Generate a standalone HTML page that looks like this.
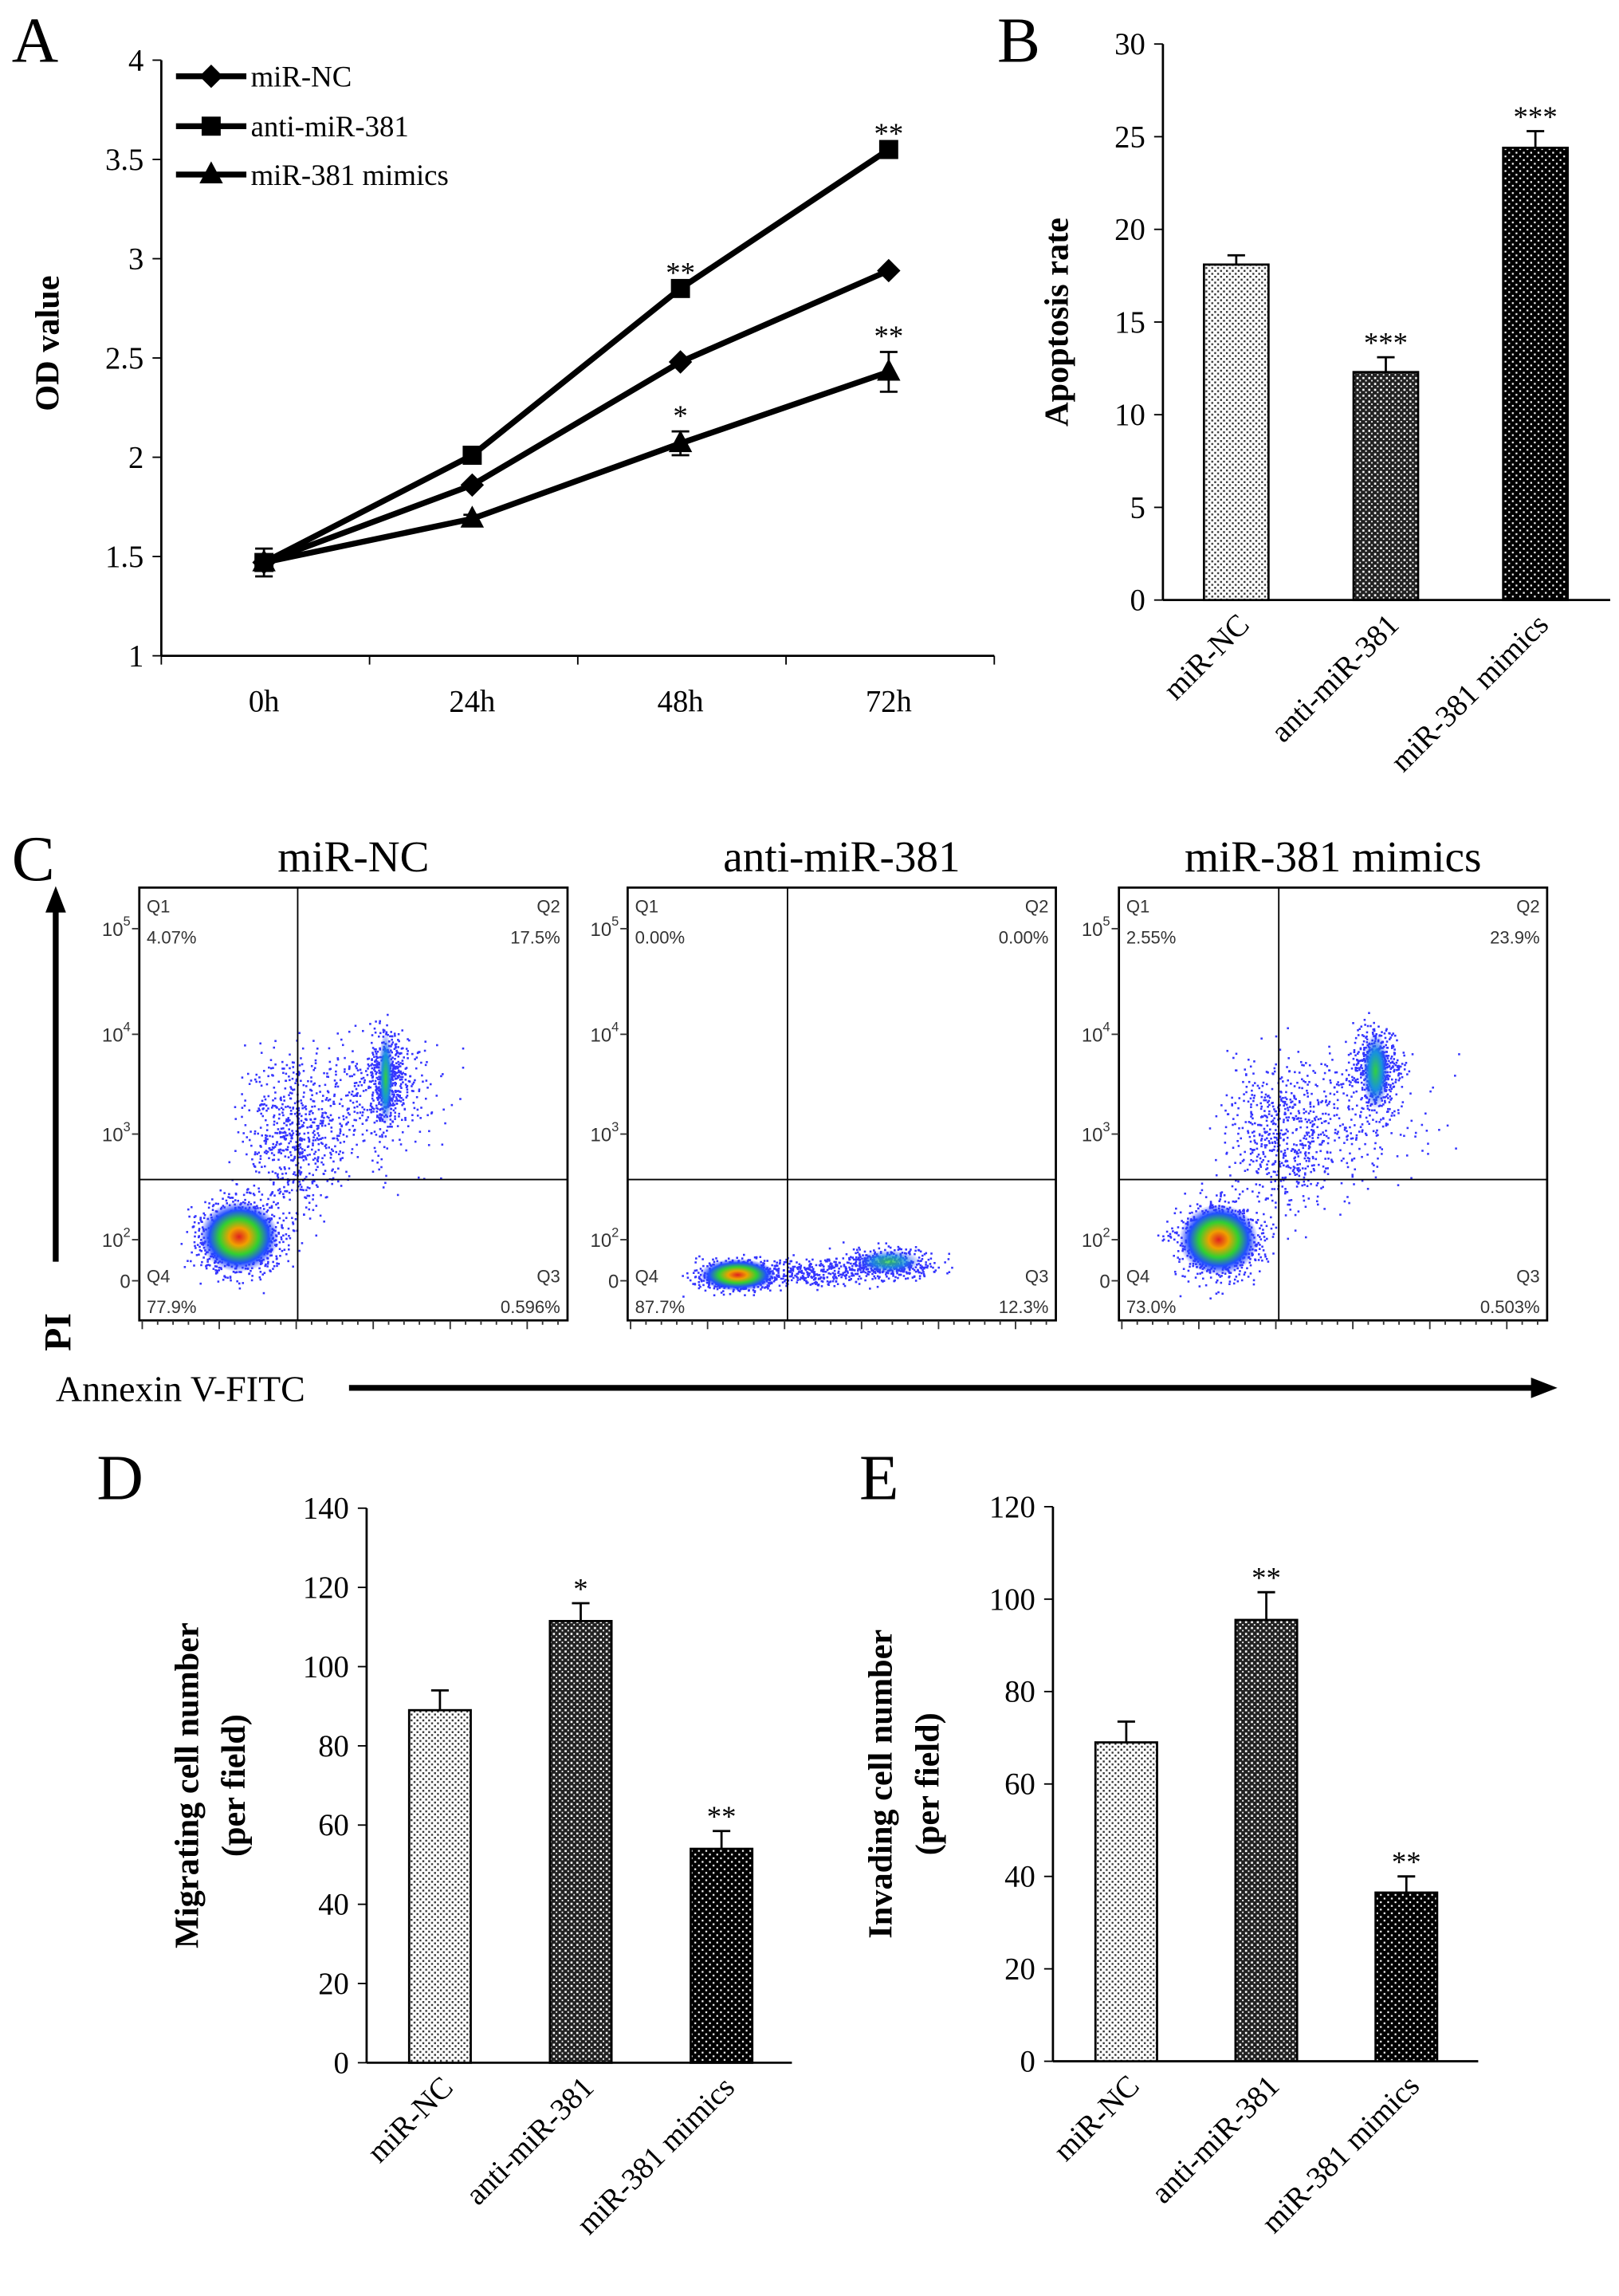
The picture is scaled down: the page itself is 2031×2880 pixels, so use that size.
<!DOCTYPE html>
<html><head><meta charset="utf-8"><style>
html,body{margin:0;padding:0;background:#fff;}
svg{display:block;}
text{font-family:"Liberation Serif",serif;}
.sans{font-family:"Liberation Sans",sans-serif;}
</style></head><body>
<svg id="fig" width="2031" height="2880" viewBox="0 0 1104 1565" preserveAspectRatio="none" xmlns="http://www.w3.org/2000/svg">
<defs>
<pattern id="pDot" width="4" height="4" patternUnits="userSpaceOnUse"><rect width="4" height="4" fill="#fff"/><rect x="0" y="0" width="1.3" height="1.3" fill="#333"/><rect x="2" y="2" width="1.3" height="1.3" fill="#333"/></pattern>
<pattern id="pCross" width="4" height="4" patternUnits="userSpaceOnUse"><rect width="4" height="4" fill="#222"/><rect x="1" y="1" width="1.4" height="1.4" fill="#fff"/><rect x="3" y="3" width="1" height="1" fill="#fff"/></pattern>
<pattern id="pBlack" width="5" height="5" patternUnits="userSpaceOnUse"><rect width="5" height="5" fill="#000"/><rect x="1" y="1" width="1.2" height="1.2" fill="#fff"/><rect x="3.5" y="3.5" width="1.2" height="1.2" fill="#fff"/></pattern>
<radialGradient id="dens"><stop offset="0" stop-color="#e02020"/><stop offset="0.25" stop-color="#f0a000"/><stop offset="0.5" stop-color="#30d030"/><stop offset="0.75" stop-color="#2050ff"/><stop offset="1" stop-color="#2030ff" stop-opacity="0"/></radialGradient>
<radialGradient id="dens2"><stop offset="0" stop-color="#30d040"/><stop offset="0.5" stop-color="#1890e0"/><stop offset="1" stop-color="#2030ff" stop-opacity="0"/></radialGradient>
</defs>
<g id="root"></g>
</svg>
<script>
// Panel A data
const aTimes=['0h','24h','48h','72h'];
const aNC=[1.47,1.86,2.48,2.94];
const aAnti=[1.47,2.01,2.85,3.55];
const aMim=[1.47,1.69,2.07,2.43];
const aErrMim=[0.07,0.02,0.06,0.1];
const aStarsAnti=['','','**','**'];
const aStarsMim=['','','*','**'];
const aYTicks=[1,1.5,2,2.5,3,3.5,4];
// Panel B
const groups=['miR-NC','anti-miR-381','miR-381 mimics'];
const bVals=[18.1,12.3,24.4];
const bErr=[0.5,0.8,0.9];
const bStars=['','***','***'];
const bYTicks=[0,5,10,15,20,25,30];
// Panel D
const dVals=[89,111.5,54];
const dErr=[5,4.5,4.5];
const dStars=['','*','**'];
const dYTicks=[0,20,40,60,80,100,120,140];
// Panel E
const eVals=[69,95.5,36.5];
const eErr=[4.5,6,3.5];
const eStars=['','**','**'];
const eYTicks=[0,20,40,60,80,100,120];
// Panel C
const cTitles=['miR-NC','anti-miR-381','miR-381 mimics'];
const cQ1=['4.07%','0.00%','2.55%'];
const cQ2=['17.5%','0.00%','23.9%'];
const cQ3=['0.596%','12.3%','0.503%'];
const cQ4=['77.9%','87.7%','73.0%'];

const NS='http://www.w3.org/2000/svg';
const root=document.getElementById('root');
function mk(tag,attrs,parent,txt){const e=document.createElementNS(NS,tag);for(const k in attrs)e.setAttribute(k,attrs[k]);if(txt!==undefined)e.textContent=txt;(parent||root).appendChild(e);return e;}

function panelLabel(t,x,y){const e=mk('text',{x:x,y:y,'font-size':44},root,t);

}
panelLabel('A',8,42);panelLabel('B',680,42);panelLabel('C',8,600);panelLabel('D',66,1022);panelLabel('E',586,1022);

// ---------- Panel A ----------
(function(){
const g=mk('g',{});


const x0=110,x1=678,yb=447,yt=41;
const Y=v=>yb-(v-1)/(4-1)*(yb-yt);
const X=i=>180+i*142;
mk('line',{x1:x0,y1:yt,x2:x0,y2:yb,stroke:'#000','stroke-width':1.5},g);
mk('line',{x1:x0,y1:yb,x2:x1,y2:yb,stroke:'#000','stroke-width':1.5},g);
aYTicks.forEach(v=>{mk('line',{x1:x0-6,y1:Y(v),x2:x0,y2:Y(v),stroke:'#000'},g);
const t=mk('text',{x:x0-12,y:Y(v)+7,'font-size':21,'text-anchor':'end'},g,String(v));
});
for(let i=0;i<=4;i++){const xx=x0+i*142;mk('line',{x1:xx,y1:yb,x2:xx,y2:yb+6,stroke:'#000'},g);}
aTimes.forEach((t,i)=>{const e=mk('text',{x:X(i),y:yb+38,'font-size':21,'text-anchor':'middle'},g,t);
});
const yl=mk('text',{x:40,y:234,'font-size':23,'font-weight':'bold','text-anchor':'middle',transform:'rotate(-90 40 234)'},g,'OD value');

function series(vals,shape,name,err,stars){
const sg=mk('g',{},g);


mk('polyline',{points:vals.map((v,i)=>X(i)+','+Y(v)).join(' '),fill:'none',stroke:'#000','stroke-width':4},sg);
vals.forEach((v,i)=>{
if(err){const e=err[i];mk('line',{x1:X(i),y1:Y(v+e),x2:X(i),y2:Y(v-e),stroke:'#000','stroke-width':1.5},sg);
[v+e,v-e].forEach(q=>mk('line',{x1:X(i)-6,y1:Y(q),x2:X(i)+6,y2:Y(q),stroke:'#000','stroke-width':1.5},sg));}
drawMarker(sg,shape,X(i),Y(v));
if(stars&&stars[i]){const off=err?err[i]:0;mk('text',{x:X(i),y:Y(v+off)-4,'font-size':20,'text-anchor':'middle'},sg,stars[i]);}
});}
function drawMarker(p,shape,x,y){
if(shape==='d')mk('polygon',{points:`${x},${y-8} ${x+8},${y} ${x},${y+8} ${x-8},${y}`,fill:'#000'},p);
else if(shape==='s')mk('rect',{x:x-6.5,y:y-6.5,width:13,height:13,fill:'#000'},p);
else mk('polygon',{points:`${x},${y-9} ${x+8},${y+6} ${x-8},${y+6}`,fill:'#000'},p);}
series(aNC,'d','mir-nc',null,null);
series(aAnti,'s','anti-mir-381',null,aStarsAnti);
series(aMim,'t','mir-381-mimics',aErrMim,aStarsMim);
const lg=mk('g',{},g);


[['d','miR-NC',52],['s','anti-miR-381',86],['t','miR-381 mimics',119]].forEach(([s,l,y])=>{
const le=mk('g',{},lg);


mk('line',{x1:120,y1:y,x2:168,y2:y,stroke:'#000','stroke-width':4},le);
drawMarker(le,s,144,y);
mk('text',{x:171,y:y+7,'font-size':20},le,l);});
})();

// ---------- Bar chart helper ----------
function barChart(o){
const g=mk('g',{});


const Y=v=>o.yb-v/o.max*(o.yb-o.yt);
mk('line',{x1:o.x0,y1:o.yt,x2:o.x0,y2:o.yb,stroke:'#000','stroke-width':1.5},g);
mk('line',{x1:o.x0,y1:o.yb,x2:o.x1,y2:o.yb,stroke:'#000','stroke-width':1.5},g);
o.ticks.forEach(v=>{mk('line',{x1:o.x0-6,y1:Y(v),x2:o.x0,y2:Y(v),stroke:'#000'},g);
const t=mk('text',{x:o.x0-12,y:Y(v)+7,'font-size':21,'text-anchor':'end'},g,String(v));
});
const fills=['url(#pDot)','url(#pCross)','url(#pBlack)'];
o.vals.forEach((v,i)=>{const cx=o.cx0+i*o.step;
const r=mk('rect',{x:cx-o.bw/2,y:Y(v),width:o.bw,height:o.yb-Y(v),fill:fills[i],stroke:'#000','stroke-width':1.5},g);


const e=o.err[i];
mk('line',{x1:cx,y1:Y(v),x2:cx,y2:Y(v+e),stroke:'#000','stroke-width':1.5},g);
mk('line',{x1:cx-6,y1:Y(v+e),x2:cx+6,y2:Y(v+e),stroke:'#000','stroke-width':1.5},g);
if(o.stars[i])mk('text',{x:cx,y:Y(v+e)-3,'font-size':20,'text-anchor':'middle'},g,o.stars[i]);
const lx=cx+10,ly=o.yb+18;
const t=mk('text',{x:lx,y:ly,'font-size':21,'text-anchor':'end',transform:`rotate(-45 ${lx} ${ly})`},g,groups[i]);
});
o.title.forEach((line,k)=>{const tx=o.tx+k*32,ty=(o.yt+o.yb)/2;
const t=mk('text',{x:tx,y:ty,'font-size':23,'font-weight':'bold','text-anchor':'middle',transform:`rotate(-90 ${tx} ${ty})`},g,line);
});
}
barChart({name:'bar-chart-b',x0:793,x1:1098,yb:409,yt:30,max:30,ticks:bYTicks,vals:bVals,err:bErr,stars:bStars,cx0:843,step:102,bw:44,title:['Apoptosis rate'],tx:728});
barChart({name:'bar-chart-d',x0:250,x1:540,yb:1406,yt:1028,max:140,ticks:dYTicks,vals:dVals,err:dErr,stars:dStars,cx0:300,step:96,bw:42,title:['Migrating cell number','(per field)'],tx:135});
barChart({name:'bar-chart-e',x0:718,x1:1008,yb:1405,yt:1027,max:120,ticks:eYTicks,vals:eVals,err:eErr,stars:eStars,cx0:768,step:95.5,bw:42,title:['Invading cell number','(per field)'],tx:608});

// ---------- Panel C flow plots ----------
let seed=7;function rnd(){seed=(seed*16807)%2147483647;return seed/2147483647;}
function gauss(){return (rnd()+rnd()+rnd()+rnd()-2)/1.2;}
const boxes=[95,428,763];
// [cx, cy, sx, sy, n] relative to box
const clusters=[
 [[68,238,60,55,900],[105,170,70,110,600],[168,130,22,70,350],[150,150,120,90,250],[170,130,60,60,200]],
 [[75,264,60,22,600],[178,256,70,22,450],[125,262,80,20,300]],
 [[68,240,58,55,900],[110,170,80,110,550],[175,125,30,60,450],[150,160,120,90,250],[175,120,50,50,150]]
];
boxes.forEach((bx,pi)=>{
const g=mk('g',{});


const by=605,w=292,h=295;
const t=mk('text',{x:bx+w/2,y:594,'font-size':30,'text-anchor':'middle'},g,cTitles[pi]);

mk('rect',{x:bx,y:by,width:w,height:h,fill:'#fff',stroke:'#000','stroke-width':1.5},g);
clusters[pi].forEach(([cx,cy,sx,sy,n])=>{for(let k=0;k<n;k++){const x=bx+cx+gauss()*sx*0.5,y=by+cy+gauss()*sy*0.5;
if(x>bx+1&&x<bx+w-2&&y>by+1&&y<by+h-2)mk('rect',{x:x,y:y,width:1.4,height:1.4,fill:'#3535ff'},g);}});
const main=clusters[pi][0];
if(pi===1){mk('ellipse',{cx:bx+main[0],cy:by+main[1],rx:26,ry:11,fill:'url(#dens)'},g);
mk('ellipse',{cx:bx+178,cy:by+255,rx:22,ry:8,fill:'url(#dens2)',opacity:0.8},g);}
else{mk('ellipse',{cx:bx+main[0],cy:by+main[1],rx:27,ry:24,fill:'url(#dens)'},g);
mk('ellipse',{cx:bx+clusters[pi][2][0],cy:by+clusters[pi][2][1],rx:pi===2?9:5,ry:pi===2?26:32,fill:'url(#dens2)'},g);}
const vx=bx+[108,109,109][pi],hy=804;
mk('line',{x1:vx,y1:by,x2:vx,y2:by+h,stroke:'#000'},g);
mk('line',{x1:bx,y1:hy,x2:bx+w,y2:hy,stroke:'#000'},g);
const fs=12;
[['Q1',bx+5,by+17,'start'],[cQ1[pi],bx+5,by+38,'start'],['Q2',bx+w-5,by+17,'end'],[cQ2[pi],bx+w-5,by+38,'end'],
 ['Q4',bx+5,by+269,'start'],[cQ4[pi],bx+5,by+290,'start'],['Q3',bx+w-5,by+269,'end'],[cQ3[pi],bx+w-5,by+290,'end']].forEach(([s,x,y,a])=>{
const e=mk('text',{x:x,y:y,'font-size':fs,'text-anchor':a,'class':'sans',fill:'#333'},g,s);
});
[['10','5',633],['10','4',705],['10','3',773],['10','2',845],['0','',873]].forEach(([b,sup,y])=>{
const e=mk('text',{x:bx-6,y:y+5,'font-size':13,'text-anchor':'end','class':'sans',fill:'#333'},g,b);
if(sup){mk('tspan',{dy:-7,'font-size':9},e,sup);}
mk('line',{x1:bx-5,y1:y,x2:bx,y2:y,stroke:'#333'},g);});
for(let k=0;k<28;k++){const xx=bx+2+k*10.5;mk('line',{x1:xx,y1:by+h,x2:xx,y2:by+h+(k%5===0?6:3),stroke:'#333'},g);}
});
const ax=mk('g',{});


mk('line',{x1:38,y1:860,x2:38,y2:618,stroke:'#000','stroke-width':4},ax);
mk('polygon',{points:'38,604 31,622 45,622',fill:'#000'},ax);
mk('text',{x:48,y:908,'font-size':26,'font-weight':'bold','text-anchor':'middle',transform:'rotate(-90 48 908)'},ax,'PI');
mk('text',{x:38,y:955,'font-size':25},ax,'Annexin V-FITC');
mk('line',{x1:238,y1:946,x2:1048,y2:946,stroke:'#000','stroke-width':4},ax);
mk('polygon',{points:'1062,946 1044,939 1044,953',fill:'#000'},ax);
</script>
</body></html>
